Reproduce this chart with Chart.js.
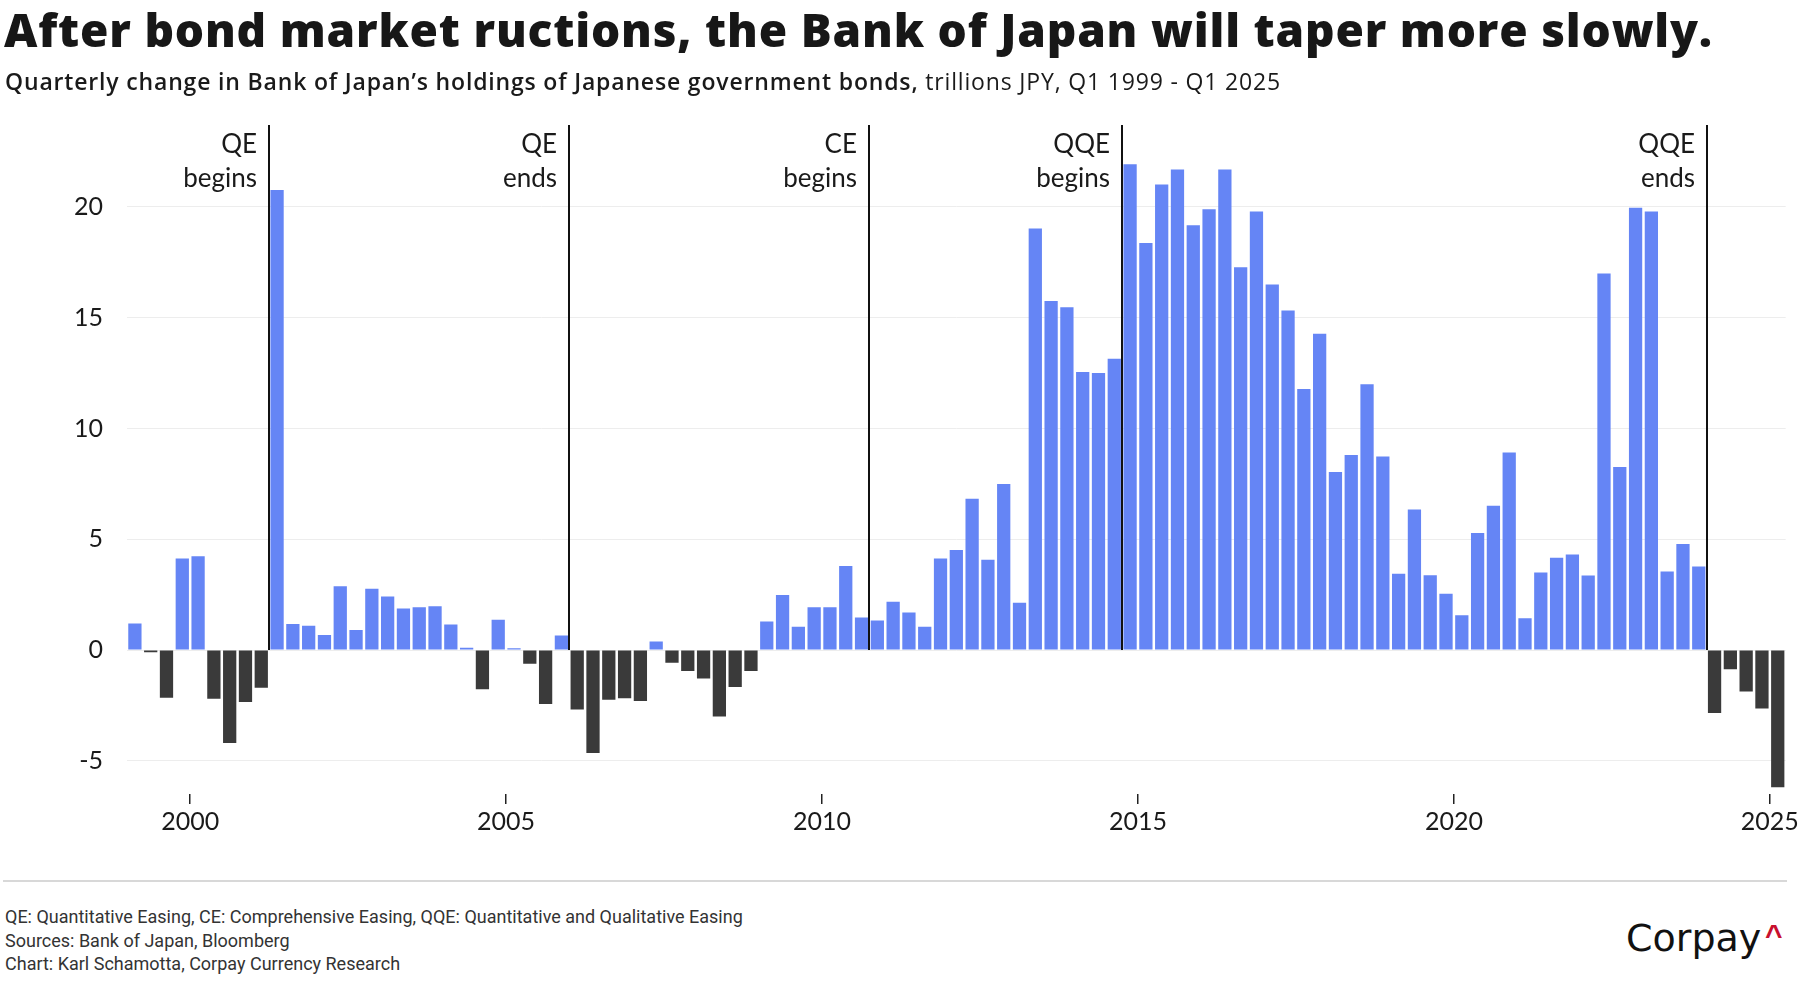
<!DOCTYPE html>
<html>
<head>
<meta charset="utf-8">
<title>BoJ JGB holdings</title>
<script src="https://cdn.jsdelivr.net/npm/chart.js@4.4.1/dist/chart.umd.min.js"></script>
<style>
  body { margin: 0; width: 1802px; height: 1000px; background: #fff; position: relative; overflow: hidden; font-family: Lato, sans-serif; color: #1a1a1a; }
  #wrap { position: absolute; left: 0; top: 0; width: 1802px; height: 880px; }
  #title { position: absolute; left: 4px; top: 6px; font-family: "Open Sans", sans-serif; font-size: 46px; line-height: 46px; font-weight: 800; white-space: nowrap; color: #171717; }
  #subtitle { position: absolute; left: 5px; top: 70px; font-family: "Open Sans", sans-serif; font-size: 23px; line-height: 23px; white-space: nowrap; }
  #subtitle b { font-weight: 600; }
  #rule { position: absolute; left: 3px; top: 880px; width: 1784px; border-top: 2px solid #d8d8d8; }
  #notes { position: absolute; left: 5px; top: 905px; font-family: "Liberation Sans Narrow", Roboto, sans-serif; font-size: 18px; line-height: 23.5px; color: #333; }
  #logo { position: absolute; left: 1626px; top: 919px; font-family: "DejaVu Sans", sans-serif; font-size: 38px; line-height: 38px; color: #111; }
  #logo span { position: absolute; left: 139px; top: -3px; font-family: "Liberation Sans", sans-serif; font-weight: 700; font-size: 30px; color: #c8102e; }
</style>
</head>
<body>
<div id="wrap"><canvas id="bojChart"></canvas></div>
<div id="title">After bond market ructions, the Bank of Japan will taper more slowly.</div>
<div id="subtitle"><b>Quarterly change in Bank of Japan’s holdings of Japanese government bonds,</b> trillions JPY, Q1 1999 - Q1 2025</div>
<div id="rule"></div>
<div id="notes">QE: Quantitative Easing, CE: Comprehensive Easing, QQE: Quantitative and Qualitative Easing<br>Sources: Bank of Japan, Bloomberg<br>Chart: Karl Schamotta, Corpay Currency Research</div>
<div id="logo">Corpay<span>^</span></div>
<script>
// quarters Q1 1999 .. Q1 2025
const quarters = [];
for (let yr = 1999; yr <= 2025; yr++) {
    for (let q = 1; q <= 4; q++) {
        if (yr === 2025 && q > 1) break;
        quarters.push('Q' + q + ' ' + yr);
    }
}

// trillions JPY
const changes = [
    1.2, -0.1, -2.15, 4.13,
    4.23, -2.2, -4.2, -2.35,
    -1.7, 20.77, 1.17, 1.09,
    0.68, 2.88, 0.9, 2.76,
    2.42, 1.87, 1.93, 1.97,
    1.15, 0.1, -1.77, 1.37,
    0.08, -0.62, -2.44, 0.66,
    -2.68, -4.65, -2.24, -2.18,
    -2.3, 0.38, -0.58, -0.95,
    -1.29, -3.0, -1.67, -0.95,
    1.29, 2.48, 1.05, 1.93,
    1.93, 3.79, 1.47, 1.33,
    2.18, 1.69, 1.05, 4.13,
    4.51, 6.83, 4.07, 7.49,
    2.13, 19.03, 15.75, 15.47,
    12.55, 12.51, 13.15, 21.93,
    18.37, 21.01, 21.69, 19.17,
    19.9, 21.69, 17.28, 19.8,
    16.5, 15.33, 11.78, 14.28,
    8.04, 8.8, 12.0, 8.74,
    3.44, 6.34, 3.38, 2.54,
    1.57, 5.28, 6.51, 8.92,
    1.43, 3.5, 4.17, 4.31,
    3.36, 17.0, 8.26, 19.96,
    19.8, 3.54, 4.79, 3.77,
    -2.84, -0.87, -1.87, -2.64,
    -6.2
];

const yearTicks = [2000, 2005, 2010, 2015, 2020, 2025];
const valueTicks = [-5, 0, 5, 10, 15, 20];

// policy events, line drawn at the start of the quarter
const events = [
    { at: 'Q2 2001', text: ['QE', 'begins'] },
    { at: 'Q1 2006', text: ['QE', 'ends'] },
    { at: 'Q4 2010', text: ['CE', 'begins'] },
    { at: 'Q4 2014', text: ['QQE', 'begins'] },
    { at: 'Q1 2024', text: ['QQE', 'ends'] }
];

const BLUE = '#6585f5';
const DARK = '#3a3a3a';

function quarterStart(label) {
    const parts = label.split(' ');
    return Number(parts[1]) + (Number(parts[0].slice(1)) - 1) / 4;
}

// stretch a heading to the width it has in the original
function fitWidth(el, target) {
    const w = el.getBoundingClientRect().width;
    el.style.letterSpacing = ((target - w) / el.textContent.length) + 'px';
}

const eventLines = {
    id: 'eventLines',
    afterDatasetsDraw(chart) {
        const { ctx, chartArea, scales: { x, y } } = chart;
        ctx.save();
        events.forEach(ev => {
            const px = Math.round(x.getPixelForValue(quarterStart(ev.at)));
            ctx.strokeStyle = '#111';
            ctx.lineWidth = 2;
            ctx.beginPath();
            ctx.moveTo(px, y.getPixelForValue(0));
            ctx.lineTo(px, chartArea.top);
            ctx.stroke();
            ctx.fillStyle = '#1a1a1a';
            ctx.font = '26px Lato';
            ctx.textAlign = 'right';
            ctx.textBaseline = 'alphabetic';
            ev.text.forEach((t, i) => ctx.fillText(t, px - 12, chartArea.top + 28 + i * 34));
        });
        ctx.restore();
    }
};

function makeChart() {
    fitWidth(document.getElementById('title'), 1709);
    fitWidth(document.getElementById('subtitle'), 1276);

    Chart.defaults.font.family = 'Lato';
    const ctx = document.getElementById('bojChart').getContext('2d');
    new Chart(ctx, {
        type: 'bar',
        data: {
            labels: quarters,
            datasets: [{
                label: 'Change in BoJ JGB holdings',
                data: quarters.map((q, i) => ({ x: quarterStart(q) + 0.125, y: changes[i] })),
                backgroundColor: changes.map(v => v >= 0 ? BLUE : DARK),
                borderWidth: 0,
                barPercentage: 0.84,
                categoryPercentage: 1
            }]
        },
        options: {
            responsive: true,
            maintainAspectRatio: false,
            animation: false,
            layout: { padding: { top: 125, right: 16, bottom: 0, left: 0 } },
            plugins: {
                legend: { display: false },
                tooltip: { enabled: false }
            },
            scales: {
                x: {
                    type: 'linear',
                    min: 1999,
                    max: 2025.25,
                    offset: false,
                    afterBuildTicks: s => { s.ticks = yearTicks.map(v => ({ value: v })); },
                    afterFit: s => { s.height = 86; },
                    grid: { offset: false, drawOnChartArea: false, drawTicks: true, tickLength: 10, color: '#222', lineWidth: 1.5 },
                    border: { display: false },
                    ticks: {
                        autoSkip: false,
                        maxRotation: 0,
                        padding: 3,
                        color: '#1a1a1a',
                        font: { size: 25 },
                        callback: v => String(v)
                    }
                },
                y: {
                    min: -6.5,
                    max: 23.7,
                    afterBuildTicks: s => { s.ticks = valueTicks.map(v => ({ value: v })); },
                    afterFit: s => { s.width = 127; },
                    grid: { color: '#ededed', lineWidth: 1, drawTicks: false },
                    border: { display: false },
                    ticks: {
                        padding: 24,
                        color: '#1a1a1a',
                        font: { size: 25 }
                    }
                }
            }
        },
        plugins: [eventLines]
    });
}

Promise.all([
    document.fonts.load('25px Lato'),
    document.fonts.load('800 46px "Open Sans"'),
    document.fonts.load('600 23px "Open Sans"'),
    document.fonts.load('23px "Open Sans"')
]).then(makeChart, makeChart);
</script>
</body>
</html>
